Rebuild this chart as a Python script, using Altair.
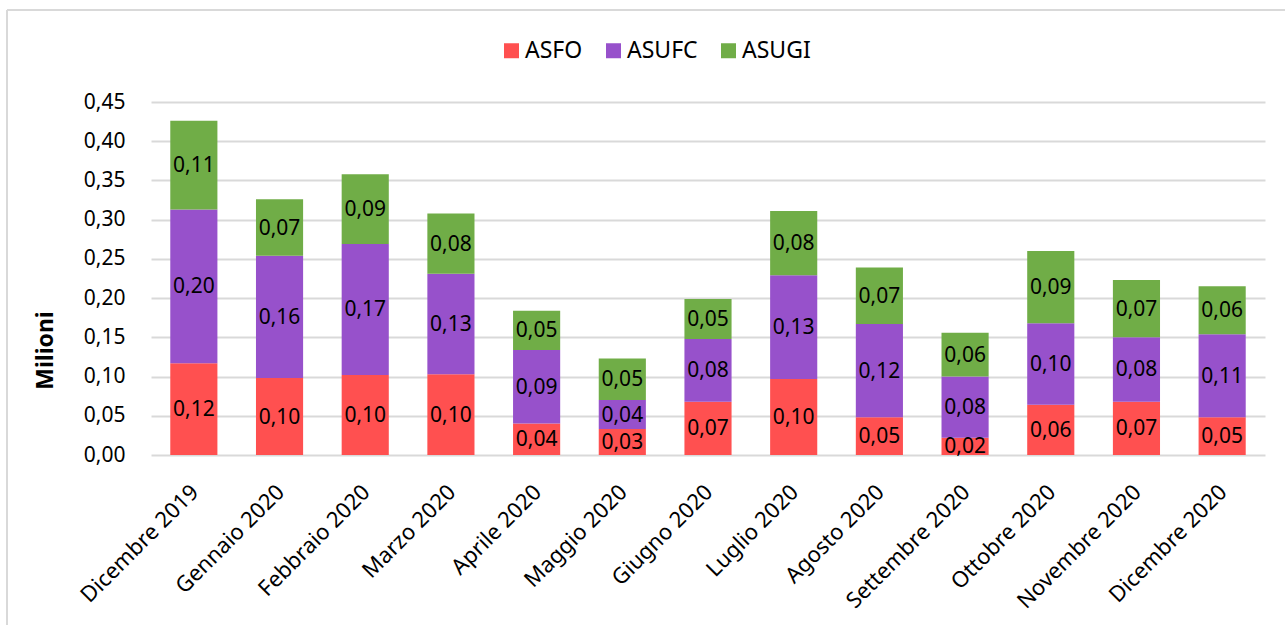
import altair as alt
import pandas as pd

months = ["Dicembre 2019", "Gennaio 2020", "Febbraio 2020", "Marzo 2020", "Aprile 2020",
          "Maggio 2020", "Giugno 2020", "Luglio 2020", "Agosto 2020", "Settembre 2020",
          "Ottobre 2020", "Novembre 2020", "Dicembre 2020"]
series = ["ASFO", "ASUFC", "ASUGI"]
colors = ["#FF5050", "#9751CB", "#70AD47"]
asfo = [0.117, 0.098, 0.102, 0.103, 0.040, 0.033, 0.068, 0.097, 0.048, 0.022, 0.064, 0.068, 0.048]
asufc = [0.196, 0.156, 0.167, 0.128, 0.094, 0.037, 0.080, 0.132, 0.119, 0.078, 0.104, 0.082, 0.106]
asugi = [0.113, 0.072, 0.089, 0.077, 0.050, 0.053, 0.051, 0.082, 0.072, 0.056, 0.092, 0.073, 0.061]
y_ticks = [0.0, 0.05, 0.10, 0.15, 0.20, 0.25, 0.30, 0.35, 0.40, 0.45]

rows = []
for s_i, (name, vals) in enumerate(zip(series, [asfo, asufc, asugi])):
    for m, v in zip(months, vals):
        rows.append({"month": m, "series": name, "value": v, "idx": s_i})
df = pd.DataFrame(rows)

FONT = "Noto Sans"

x_scale = alt.Scale(paddingInner=0.45, paddingOuter=0.225)
x_axis = alt.Axis(labelAngle=-45, labelFontSize=22, labelFont=FONT,
                  labelColor="#000000", domain=False, ticks=False,
                  labelPadding=26, labelOffset=-6, grid=False)

y_scale = alt.Scale(domain=[0, 0.45], nice=False, zero=True)
y_axis = alt.Axis(values=y_ticks, labelExpr="replace(format(datum.value, '.2f'), '.', ',')",
                  labelOverlap=False, labelFontSize=21, labelFont=FONT, labelColor="#000000",
                  domain=False, ticks=False, labelPadding=26,
                  grid=True, gridColor="#d9d9d9", gridWidth=2,
                  titleFont=FONT, titleFontSize=23, titleFontWeight="bold",
                  titleColor="#000000", titleX=-106, titleY=248,
                  titleBaseline="middle", titleAlign="center", titleAngle=270)

bars = alt.Chart(df).mark_bar().encode(
    x=alt.X("month:N", sort=months, title=None, scale=x_scale, axis=x_axis),
    y=alt.Y("value:Q", stack="zero", scale=y_scale, axis=y_axis, title="Milioni"),
    color=alt.Color("series:N", scale=alt.Scale(domain=series, range=colors),
                    legend=alt.Legend(title=None, orient="none", legendX=349, legendY=-63,
                                      direction="horizontal", symbolType="square",
                                      symbolSize=225, symbolStrokeWidth=0,
                                      labelFontSize=23, labelFont=FONT, labelColor="#000000",
                                      labelOffset=2, columnPadding=19)),
    order=alt.Order("idx:Q", sort="ascending"),
)

labels = alt.Chart(df).transform_stack(
    stack="value", groupby=["month"], as_=["v0", "v1"],
    sort=[alt.SortField("idx", order="ascending")]
).transform_calculate(
    mid="(datum.v0 + datum.v1) / 2",
    lbl="replace(format(datum.value, '.2f'), '.', ',')"
).mark_text(fontSize=21, font=FONT, color="#000000", baseline="middle", dy=1).encode(
    x=alt.X("month:N", sort=months, title=None, scale=x_scale, axis=x_axis),
    y=alt.Y("mid:Q", scale=y_scale, axis=y_axis, title="Milioni"),
    text="lbl:N",
)

border_top = alt.Chart(df).mark_rule(color="#d9d9d9", strokeWidth=2).encode(
    x=alt.value(-144), x2=alt.value(1134), y=alt.value(-92)
)
border_left = alt.Chart(df).mark_rule(color="#d9d9d9", strokeWidth=2).encode(
    x=alt.value(-144), y=alt.value(-92), y2=alt.value(523)
)

chart = alt.layer(bars, labels, border_top, border_left).properties(
    width=1114, height=353,
    autosize="none",
    padding={"left": 151, "top": 102, "right": 20, "bottom": 170},
    background="white",
).configure_view(stroke=None)

chart.save("out.html", embed_options={"renderer": "svg", "actions": False})
